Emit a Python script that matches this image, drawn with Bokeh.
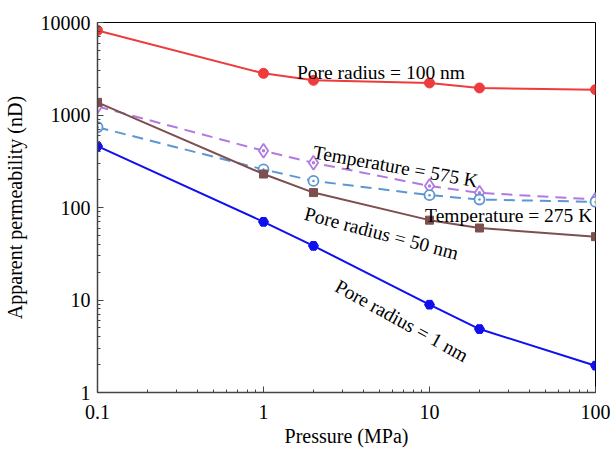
from bokeh.plotting import figure
from bokeh.models import FixedTicker, CustomJSTickFormatter, ColumnDataSource
from bokeh.core.properties import value
from bokeh.embed import file_html
from bokeh.resources import INLINE
import math

# ---- data ----
pressure = [0.1, 1, 2, 10, 20, 100]
perm_r100 = [8200, 2820, 2370, 2220, 1960, 1880]
perm_r50 = [1370, 230, 145, 73, 60, 48.4]
perm_t575 = [1240, 410, 304, 171, 144, 122]
perm_t275 = [738, 258, 194, 136, 122, 115]
perm_r1 = [460, 70, 38.5, 8.9, 4.85, 1.95]

x_major = [0.1, 1, 10, 100]
x_minor = [0.2, 0.3, 0.4, 0.5, 0.6, 0.7, 0.8, 0.9,
           2, 3, 4, 5, 6, 7, 8, 9,
           20, 30, 40, 50, 60, 70, 80, 90]
y_major = [1, 10, 100, 1000, 10000]
y_minor = [m * d for d in [1, 10, 100, 1000] for m in range(2, 10)]

label_text = ["Pore radius = 100 nm", "Temperature = 575 K", "Temperature = 275 K",
              "Pore radius = 50 nm", "Pore radius = 1 nm"]
label_x = [1.589, 1.992, 9.41, 1.775, 2.76]
label_y = [2912, 400, 81.7, 86.5, 14.6]
label_angle_deg = [0, -10.1, 0, -14.7, -29]

FONT = "Liberation Serif"
FS = "19.5px"

p = figure(width=610, height=449, x_axis_type="log", y_axis_type="log",
           x_range=(0.1, 100), y_range=(1, 10000),
           output_backend="svg", toolbar_location=None,
           min_border_left=8, min_border_right=15, min_border_top=22,
           min_border_bottom=8, background_fill_color="white",
           border_fill_color="white")

p.xgrid.visible = False
p.ygrid.visible = False
p.outline_line_color = "black"
p.outline_line_width = 1
p.outline_line_alpha = 1

p.xaxis.ticker = FixedTicker(ticks=x_major, minor_ticks=x_minor)
p.yaxis.ticker = FixedTicker(ticks=y_major, minor_ticks=y_minor)
p.xaxis.formatter = CustomJSTickFormatter(code="return tick.toString();")
p.yaxis.formatter = CustomJSTickFormatter(code="return tick.toString();")

for ax in (p.xaxis[0], p.yaxis[0]):
    ax.axis_line_color = "#444444"
    ax.axis_line_width = 1.5
    ax.major_tick_line_color = "#444444"
    ax.minor_tick_line_color = "#444444"
    ax.major_tick_in = 6
    ax.major_tick_out = 0
    ax.minor_tick_in = 3
    ax.minor_tick_out = 0
    ax.major_label_text_font = FONT
    ax.major_label_text_font_size = "20px"
    ax.major_label_text_color = "black"
    ax.axis_label_text_font = FONT
    ax.axis_label_text_font_size = "20px"
    ax.axis_label_text_font_style = "normal"
    ax.axis_label_text_color = "black"

p.xaxis.axis_label = "Pressure (MPa)"
p.yaxis.axis_label = "Apparent permeability (nD)"
p.xaxis.major_label_standoff = 12
p.yaxis.major_label_standoff = 7
p.xaxis.axis_label_standoff = 3
p.yaxis.axis_label_standoff = 12

src = ColumnDataSource(dict(x=pressure, r100=perm_r100, r50=perm_r50,
                            t575=perm_t575, t275=perm_t275, r1=perm_r1))

RED = "#ee3c3c"
BROWN = "#7d4f4f"
PURPLE = "#b07ae0"
LBLUE = "#5b97d2"
BLUE = "#0f0ff0"

# dashed temperature series
p.line("x", "t575", source=src, color=PURPLE, line_width=2, line_dash="11 7")
p.scatter("x", "t575", source=src, marker="diamond_dot", size=14,
          line_color=PURPLE, fill_color="white", line_width=1.8)
p.line("x", "t275", source=src, color=LBLUE, line_width=2, line_dash="11 7")
p.scatter("x", "t275", source=src, marker="circle_dot", size=10,
          line_color=LBLUE, fill_color="white", line_width=1.8)

# solid pore radius series
p.line("x", "r100", source=src, color=RED, line_width=2)
p.scatter("x", "r100", source=src, marker="circle", size=10,
          line_color=RED, fill_color=RED)
p.line("x", "r50", source=src, color=BROWN, line_width=2)
p.scatter("x", "r50", source=src, marker="square", size=8,
          line_color=BROWN, fill_color=BROWN)
p.line("x", "r1", source=src, color=BLUE, line_width=2)
p.scatter("x", "r1", source=src, marker="hex", size=10,
          line_color=BLUE, fill_color=BLUE)

lab = ColumnDataSource(dict(x=label_x, y=label_y, text=label_text,
                            angle=[math.radians(a) for a in label_angle_deg]))
p.text("x", "y", text="text", angle="angle", source=lab,
       text_font=value(FONT), text_font_size=value(FS),
       text_align="left", text_baseline="alphabetic", text_color="black")

open("out.html", "w").write(file_html(p, INLINE))
